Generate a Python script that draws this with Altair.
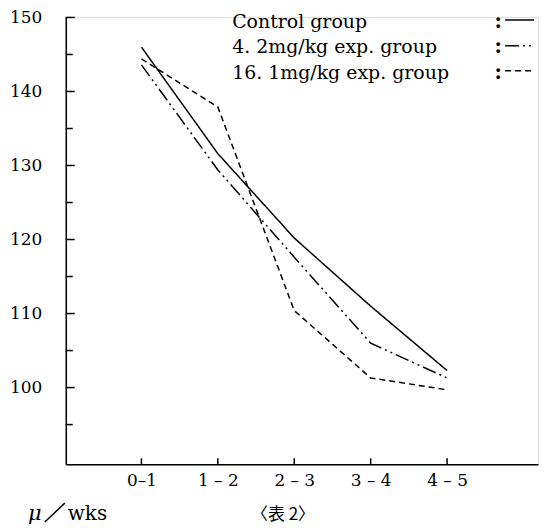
import altair as alt
import pandas as pd

periods = ["0–1", "1 – 2", "2 – 3", "3 – 4", "4 – 5"]
control = [146.0, 131.6, 120.2, 111.0, 102.3]
exp_42 = [143.6, 129.4, 117.6, 106.0, 101.3]
exp_161 = [144.4, 137.9, 110.4, 101.3, 99.7]
group_names = ["Control group", "4. 2mg/kg  exp. group", "16. 1mg/kg  exp. group"]
major_ticks = [100, 110, 120, 130, 140, 150]
minor_ticks = [95, 105, 115, 125, 135, 145]
y_labels = [100, 110, 120, 130, 140, 150]

SERIF = "DejaVu Serif"
W, H = 474, 449
dashes = {group_names[0]: [1, 0], group_names[1]: [14, 4, 2, 4, 2, 4], group_names[2]: [6, 4]}

rows = []
for g, vals in zip(group_names, [control, exp_42, exp_161]):
    for i, v in enumerate(vals):
        rows.append({"idx": i, "value": v, "group": g})
df = pd.DataFrame(rows)

xscale = alt.Scale(domain=[-0.99, 5.19], nice=False, zero=False)
yscale = alt.Scale(domain=[89.64, 150.07], nice=False, zero=False)

label_expr = "[" + ",".join("'" + p + "'" for p in periods) + "][datum.value]"

base_axes = alt.Chart(df).mark_point(opacity=0).encode(
    x=alt.X("idx:Q", scale=xscale, title=None,
            axis=alt.Axis(values=list(range(len(periods))), labelExpr=label_expr,
                          ticks=False, tickSize=0, grid=False, domainColor="black",
                          domainWidth=1.5, labelFont=SERIF, labelFontSize=17,
                          labelColor="black", labelPadding=8)),
    y=alt.Y("value:Q", scale=yscale, title=None,
            axis=alt.Axis(values=y_labels, ticks=False, tickSize=0, grid=False,
                          domainColor="black", domainWidth=1.5, labelFont=SERIF,
                          labelFontSize=17, labelColor="black", labelPadding=24)),
)

layers = [base_axes]
for g in group_names:
    layers.append(
        alt.Chart(df[df.group == g]).mark_line(color="black", strokeWidth=1.5,
                                                strokeDash=dashes[g]).encode(
            x=alt.X("idx:Q", scale=xscale),
            y=alt.Y("value:Q", scale=yscale),
        )
    )

ytick_df = pd.DataFrame({"v": major_ticks + minor_ticks,
                         "len": [9] * len(major_ticks) + [7] * len(minor_ticks)})
for ln in [9, 7]:
    layers.append(
        alt.Chart(ytick_df[ytick_df.len == ln]).mark_rule(color="black", strokeWidth=1.5).encode(
            y=alt.Y("v:Q", scale=yscale), x=alt.value(0), x2=alt.value(ln))
    )

xtick_df = pd.DataFrame({"idx": list(range(len(periods)))})
layers.append(
    alt.Chart(xtick_df).mark_rule(color="black", strokeWidth=1.5).encode(
        x=alt.X("idx:Q", scale=xscale), y=alt.value(H), y2=alt.value(H - 6))
)

# legend (label, colon, line sample)
leg_y = [11, 36, 62]
line_y = [3, 29, 54]
for g, ty, ly in zip(group_names, leg_y, line_y):
    tdf = pd.DataFrame({"t": [g]})
    layers.append(
        alt.Chart(tdf).mark_text(font=SERIF, fontSize=19, align="left", baseline="alphabetic",
                                 color="black").encode(text="t:N", x=alt.value(167), y=alt.value(ty))
    )
    layers.append(
        alt.Chart(pd.DataFrame({"t": [":"]})).mark_text(font=SERIF, fontSize=20, fontWeight="bold",
                                                       align="center", baseline="alphabetic",
                                                       color="black").encode(
            text="t:N", x=alt.value(434), y=alt.value(ty))
    )
    layers.append(
        alt.Chart(tdf).mark_rule(color="black", strokeWidth=1.5, strokeDash=dashes[g]).encode(
            x=alt.value(441), x2=alt.value(470), y=alt.value(ly))
    )

# bottom captions
cap_y = H + 56
layers.append(
    alt.Chart(pd.DataFrame({"t": ["μ"]})).mark_text(font=SERIF, fontSize=21, fontStyle="italic",
                                                     align="left", baseline="alphabetic",
                                                     color="black").encode(
        text="t:N", x=alt.value(-38), y=alt.value(cap_y))
)
layers.append(
    alt.Chart(pd.DataFrame({"t": ["/"]})).mark_rule(color="black", strokeWidth=1.5).encode(
        x=alt.value(-21), x2=alt.value(-1), y=alt.value(cap_y + 2), y2=alt.value(cap_y - 17))
)
layers.append(
    alt.Chart(pd.DataFrame({"t": ["wks"]})).mark_text(font=SERIF, fontSize=20,
                                                       align="left", baseline="alphabetic",
                                                       color="black").encode(
        text="t:N", x=alt.value(2), y=alt.value(cap_y))
)
layers.append(
    alt.Chart(pd.DataFrame({"t": ["〈表 2〉"]})).mark_text(font="Noto Sans CJK JP", fontSize=17,
                                                          align="center", baseline="alphabetic",
                                                          color="black").encode(
        text="t:N", x=alt.value(218), y=alt.value(cap_y))
)

chart = alt.layer(*layers).properties(
    width=W, height=H,
    autosize=alt.AutoSizeParams(type="none"),
    padding={"left": 58, "top": 8, "right": 3, "bottom": 60},
).configure_view(stroke=None).configure(background="white")

chart.save("out.html", embed_options={"renderer": "svg", "actions": False})
